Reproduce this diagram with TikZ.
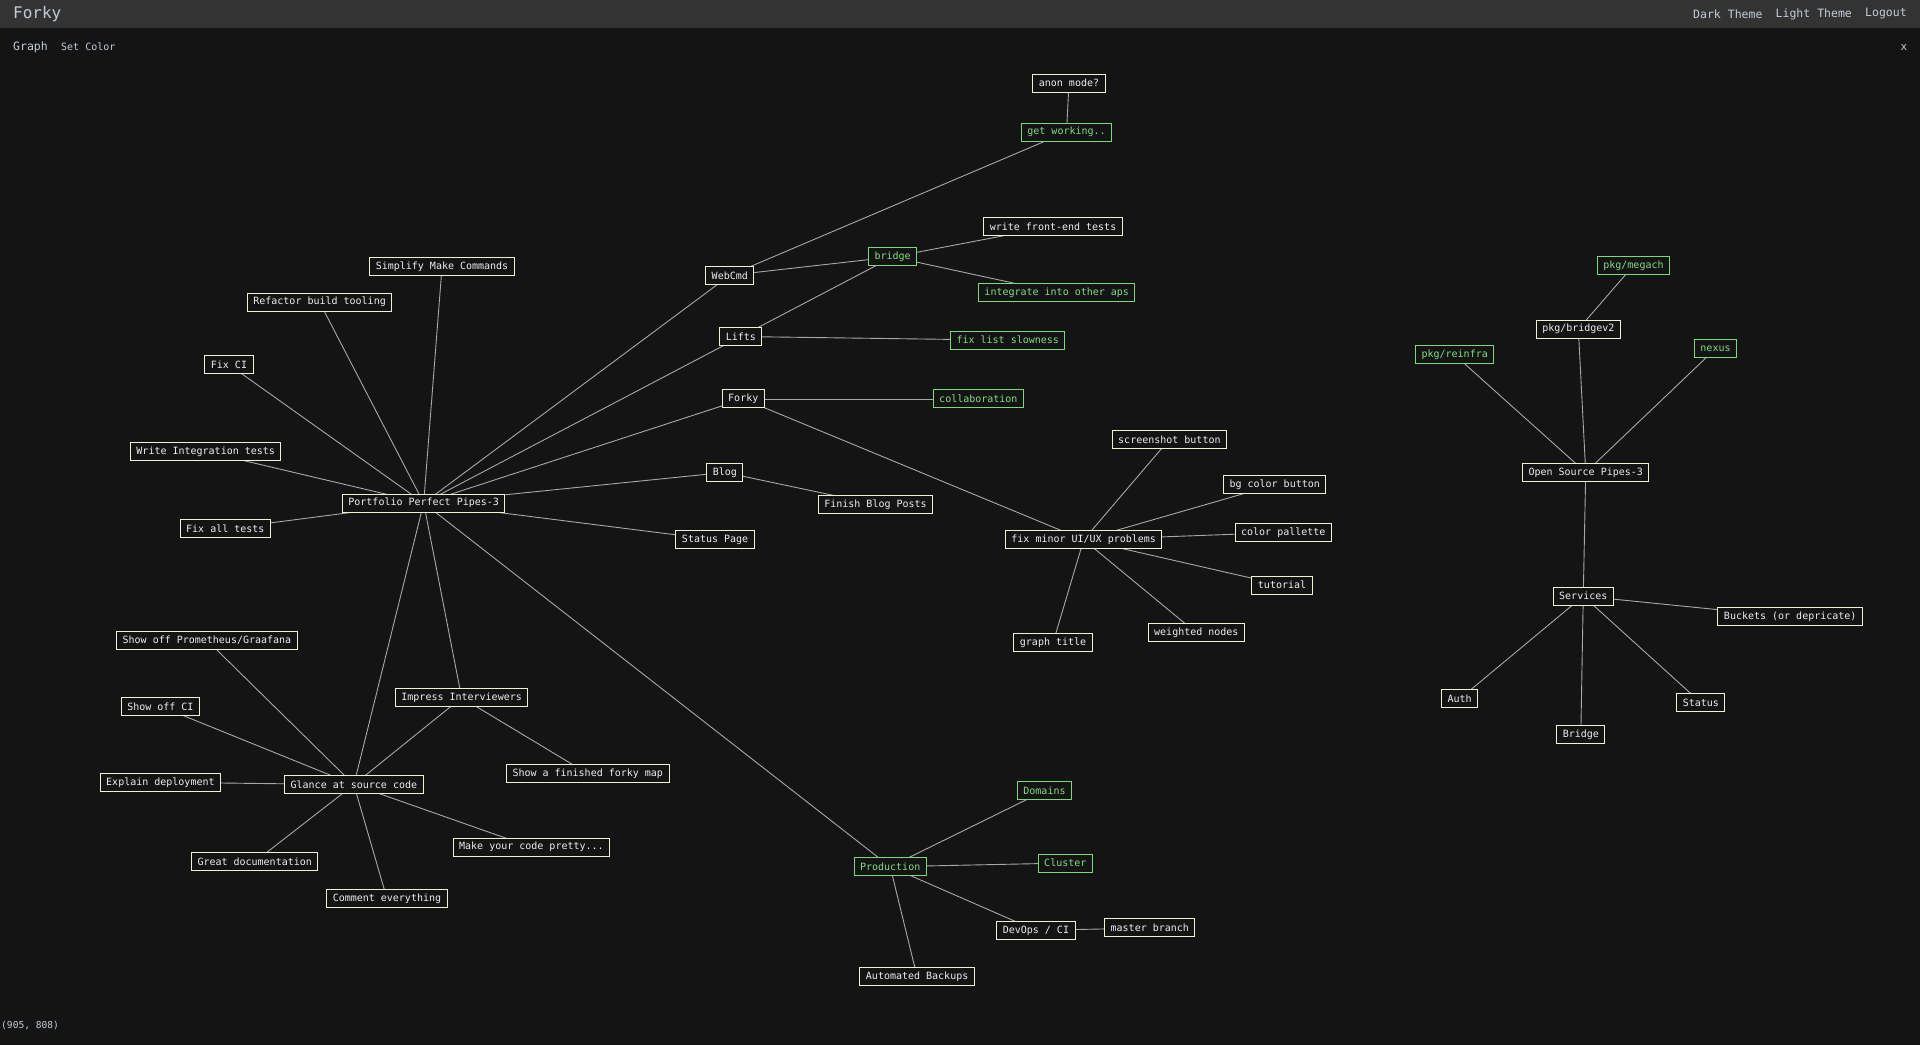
\documentclass[tikz,border=0pt]{standalone}
\usepackage{fontspec}
\setmonofont{DejaVu Sans Mono}
\setmainfont{DejaVu Sans Mono}
\definecolor{bgc}{HTML}{141414}
\definecolor{hdr}{HTML}{333333}
\definecolor{uitext}{HTML}{C4CCDA}
\definecolor{wbord}{HTML}{F2F0D2}
\definecolor{wtext}{HTML}{EEEEEE}
\definecolor{gbord}{HTML}{7FD67F}
\definecolor{gtext}{HTML}{86DA86}
\definecolor{edgec}{HTML}{A8A8A8}
\pgfdeclarelayer{bglayer}
\pgfdeclarelayer{edgelayer}
\pgfsetlayers{bglayer,edgelayer,main}
\tikzset{
  wnode/.style={draw=wbord, fill=bgc, text=wtext, line width=1pt, inner xsep=6pt, inner ysep=0pt, minimum height=18pt, font=\fontsize{10}{12}\selectfont\ttfamily},
  gnode/.style={wnode, draw=gbord, text=gtext},
  link/.style={draw=edgec, line width=0.9pt},
  ui/.style={text=uitext, inner sep=0pt, anchor=west}
}
\begin{document}
\begin{tikzpicture}
\begin{scope}[x=1pt,y=-1pt]
\begin{pgfonlayer}{bglayer}
\fill[bgc] (0,0) rectangle (1920,1045);
\fill[hdr] (0,0) rectangle (1920,28);
\end{pgfonlayer}
\useasboundingbox (0,0) rectangle (1920,1045);
\node[ui, font=\fontsize{16}{18}\selectfont] (title) at (13,14) {Forky};
\node[ui, font=\fontsize{11.5}{13}\selectfont] (dark) at (1693,14) {Dark Theme};
\node[ui, font=\fontsize{11.5}{13}\selectfont] (light) at (1775.5,14) {Light Theme};
\node[ui, font=\fontsize{11.5}{13}\selectfont] (logout) at (1865,14) {Logout};
\node[ui, font=\fontsize{11.5}{13}\selectfont] (graph) at (13,47) {Graph};
\node[ui, font=\fontsize{10}{12}\selectfont] (setcolor) at (61,47) {Set Color};
\node[ui, font=\fontsize{11}{13}\selectfont, anchor=center] (close) at (1904,47) {x};
\node[ui, font=\fontsize{9.6}{11}\selectfont] (coords) at (1,1026) {(905, 808)};
\end{scope}
\begin{scope}[x=1.22449pt,y=-1.22449pt, yshift=-1pt]
% nodes
\node[wnode] (anon) at (873,67) {anon mode?};
\node[gnode] (getw) at (871,107) {get working..};
\node[wnode] (wfe) at (860,184) {write front-end tests};
\node[gnode] (bridge) at (729,209) {bridge};
\node[gnode] (integ) at (863,238) {integrate into other aps};
\node[wnode] (webcmd) at (596,224) {WebCmd};
\node[wnode] (simp) at (361,217) {Simplify Make Commands};
\node[wnode] (refac) at (261,246) {Refactor build tooling};
\node[wnode] (lifts) at (605,274) {Lifts};
\node[gnode] (fls) at (823,277) {fix list slowness};
\node[wnode] (fixci) at (187,297) {Fix CI};
\node[wnode] (forky) at (607,325) {Forky};
\node[gnode] (collab) at (799,325) {collaboration};
\node[wnode] (ssb) at (955,358) {screenshot button};
\node[wnode] (wit) at (168,368) {Write Integration tests};
\node[wnode] (blog) at (592,385) {Blog};
\node[wnode] (bgcb) at (1041,395) {bg color button};
\node[wnode] (ppp) at (346,410) {Portfolio Perfect Pipes-3};
\node[wnode] (fbp) at (715,411) {Finish Blog Posts};
\node[wnode] (fat) at (184,431) {Fix all tests};
\node[wnode] (statp) at (584,440) {Status Page};
\node[wnode] (fmu) at (885,440) {fix minor UI/UX problems};
\node[wnode] (colp) at (1048,434) {color pallette};
\node[wnode] (tut) at (1047,477) {tutorial};
\node[wnode] (gtitle) at (860,524) {graph title};
\node[wnode] (wn) at (977,516) {weighted nodes};
\node[wnode] (prom) at (169,522) {Show off Prometheus/Graafana};
\node[wnode] (imp) at (377,569) {Impress Interviewers};
\node[wnode] (soci) at (131,576) {Show off CI};
\node[wnode] (safm) at (480,631) {Show a finished forky map};
\node[wnode] (expd) at (131,638) {Explain deployment};
\node[wnode] (glance) at (289,640) {Glance at source code};
\node[wnode] (pretty) at (434,691) {Make your code pretty...};
\node[wnode] (gdoc) at (208,703) {Great documentation};
\node[wnode] (ceve) at (316,733) {Comment everything};
\node[gnode] (dom) at (853,645) {Domains};
\node[gnode] (prod) at (727,707) {Production};
\node[gnode] (clus) at (870,704) {Cluster};
\node[wnode] (devops) at (846,759) {DevOps / CI};
\node[wnode] (mb) at (939,757) {master branch};
\node[wnode] (ab) at (749,797) {Automated Backups};
\node[gnode] (megach) at (1334,216) {pkg/megach};
\node[wnode] (bv2) at (1289,268) {pkg/bridgev2};
\node[gnode] (reinfra) at (1188,289) {pkg/reinfra};
\node[gnode] (nexus) at (1401,284) {nexus};
\node[wnode] (osp) at (1295,385) {Open Source Pipes-3};
\node[wnode] (serv) at (1293,486) {Services};
\node[wnode] (buck) at (1462,503) {Buckets (or depricate)};
\node[wnode] (auth) at (1192,570) {Auth};
\node[wnode] (stat) at (1389,573) {Status};
\node[wnode] (bri) at (1291,599) {Bridge};
% edges
\begin{pgfonlayer}{edgelayer}
\foreach \a/\b in {anon/getw, getw/webcmd, webcmd/bridge, bridge/wfe, bridge/integ, bridge/lifts,
  webcmd/ppp, lifts/ppp, lifts/fls, forky/ppp, forky/collab, forky/fmu,
  simp/ppp, refac/ppp, fixci/ppp, wit/ppp, fat/ppp, blog/ppp, blog/fbp, statp/ppp,
  ppp/prod, ppp/glance, ppp/imp,
  fmu/ssb, fmu/bgcb, fmu/colp, fmu/tut, fmu/wn, fmu/gtitle,
  glance/prom, glance/soci, glance/expd, glance/imp, glance/pretty, glance/gdoc, glance/ceve,
  imp/safm, prod/dom, prod/clus, prod/devops, prod/ab, devops/mb,
  osp/bv2, osp/reinfra, osp/nexus, osp/serv, bv2/megach,
  serv/buck, serv/auth, serv/stat, serv/bri}
  \draw[link] (\a.center) -- (\b.center);
\end{pgfonlayer}
\end{scope}
\end{tikzpicture}
\end{document}
